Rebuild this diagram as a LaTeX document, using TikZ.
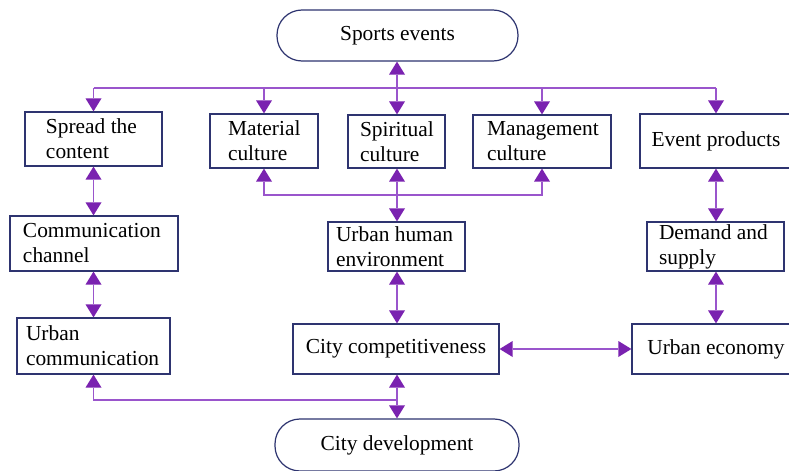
\documentclass[tikz,border=0pt]{standalone}
\usepackage{fontspec}
\setmainfont{Liberation Serif}
\usetikzlibrary{arrows.meta}
\definecolor{framecol}{HTML}{2E3470}
\definecolor{linkcol}{HTML}{9A55CC}
\definecolor{tipcol}{HTML}{7A22B0}
\newcommand{\labelfont}{\fontsize{10.7}{12.5}\selectfont\hyphenpenalty=10000\exhyphenpenalty=10000}
\begin{document}
\begin{tikzpicture}[x=0.5pt,y=-0.5pt,
  box/.style={draw=framecol, line width=0.6pt, fill=white, inner ysep=0pt, align=flush left, font=\labelfont},
  cbox/.style={draw=framecol, line width=0.6pt, fill=white, inner sep=0pt, align=center, font=\labelfont},
  pill/.style={cbox, rounded corners=12.5pt},
  link/.style={draw=linkcol, line width=0.9pt},
  tip/.tip={Triangle[length=6.5pt, width=8pt, fill=tipcol, color=tipcol, line width=0pt]},
  both/.style={link, tip-tip},
  one/.style={link, -tip}
]
\useasboundingbox (0,0) rectangle (789,471);
\fill[white] (0,0) rectangle (789,471);

% top and bottom terminals
\node[pill, minimum width=120.5pt, minimum height=25.5pt] (sports) at (397.5,35.5) {Sports events};
\node[pill, minimum width=122pt, minimum height=26pt] (citydev) at (397,445) {City development};

% first row
\node[box, minimum height=27pt, text width=47.5pt, inner xsep=10.5pt] (spread) at (93.5,139) {Spread the\\content};
\node[box, minimum height=27pt, text width=36pt, inner xsep=9pt] (material) at (264,141) {Material\\culture};
\node[box, minimum height=26.5pt, text width=36.5pt, inner xsep=6pt] (spiritual) at (396.5,141.5) {Spiritual\\culture};
\node[box, minimum height=26.5pt, text width=55pt, inner xsep=7pt] (management) at (542,141.5) {Management\\culture};
\node[cbox, minimum width=76pt, minimum height=27pt] (event) at (716,141) {Event products};

% second row
\node[box, minimum height=27.5pt, text width=71pt, inner xsep=6.5pt] (channel) at (94,243.5) {Communication\\channel};
\node[box, minimum height=24.5pt, text width=60.5pt, inner xsep=4pt] (human) at (396.5,246.5) {Urban human\\environment};
\node[box, minimum height=24.5pt, text width=56.5pt, inner xsep=6pt] (demand) at (715.5,246.5) {Demand and\\supply};

% third row
\node[box, minimum height=28pt, text width=67.5pt, inner xsep=4.5pt] (urbcomm) at (93.5,346) {Urban\\communication};
\node[cbox, minimum width=103pt, minimum height=25pt] (compet) at (396,349) {City competitiveness};
\node[cbox, minimum width=84pt, minimum height=25pt] (economy) at (716,349) {Urban economy};

% junction points of the branching connectors
\coordinate (topbus) at (397,88);
\coordinate (midbus) at (397,195);
\coordinate (lowbus) at (397,400);

% from the sports events
\draw[both] (topbus |- sports.south) -- (topbus |- spiritual.north);
\draw[link] (spread.north |- topbus) -- (event.north |- topbus);
\draw[one] (spread.north |- topbus) -- (spread.north);
\draw[one] (material.north |- topbus) -- (material.north);
\draw[one] (management.north |- topbus) -- (management.north);
\draw[one] (event.north |- topbus) -- (event.north);

% culture to urban human environment
\draw[both] (midbus |- spiritual.south) -- (midbus |- human.north);
\draw[one] (midbus) -| (material.south);
\draw[one] (midbus) -| (management.south);

% communication column
\draw[both] (spread.south) -- (spread.south |- channel.north);
\draw[both] (spread.south |- channel.south) -- (spread.south |- urbcomm.north);

% economy column
\draw[both] (event.south) -- (event.south |- demand.north);
\draw[both] (event.south |- demand.south) -- (event.south |- economy.north);

% city competitiveness
\draw[both] (midbus |- human.south) -- (midbus |- compet.north);
\draw[both] (compet.east) -- (economy.west);
\draw[both] (lowbus |- compet.south) -- (lowbus |- citydev.north);
\draw[one] (lowbus) -| (urbcomm.south);
\end{tikzpicture}
\end{document}
